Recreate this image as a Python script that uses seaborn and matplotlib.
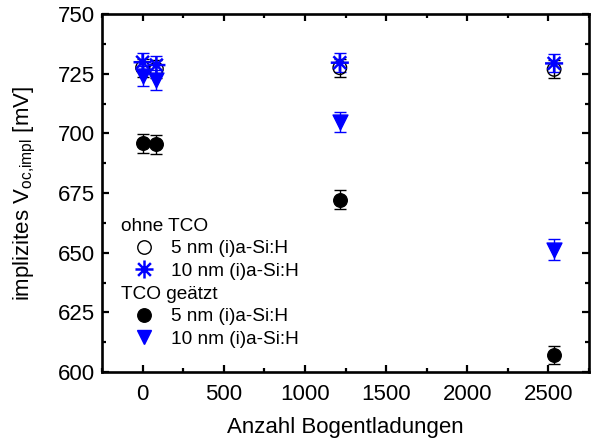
import numpy as np
import pandas as pd
import matplotlib
matplotlib.use("Agg")
import matplotlib.pyplot as plt
import seaborn as sns
from matplotlib.path import Path
from matplotlib.lines import Line2D
from matplotlib.ticker import MultipleLocator

# ---- data ----
arc_discharges = [0, 85, 1215, 2535]
ohne_tco_5nm = [727.5, 727.0, 727.5, 726.8]
ohne_tco_5nm_err = [3.8, 3.8, 3.8, 3.8]
ohne_tco_10nm = [729.8, 728.6, 729.6, 729.3]
ohne_tco_10nm_err = [3.8, 3.8, 4.0, 3.8]
tco_5nm = [695.8, 695.4, 672.1, 607.1]
tco_5nm_err = [4.0, 4.0, 4.0, 3.8]
tco_10nm = [724.0, 722.4, 704.8, 651.3]
tco_10nm_err = [4.3, 4.3, 4.3, 4.5]

x_ticks = [0, 500, 1000, 1500, 2000, 2500]
y_ticks = [600, 625, 650, 675, 700, 725, 750]

sns.set_theme(style="ticks")
plt.rcParams['font.family'] = ['Liberation Sans', 'DejaVu Sans']
plt.rcParams['mathtext.default'] = 'regular'
plt.rcParams['text.color'] = 'black'
plt.rcParams['axes.labelcolor'] = 'black'
plt.rcParams['xtick.color'] = 'black'
plt.rcParams['ytick.color'] = 'black'

fig = plt.figure(figsize=(5.91, 4.43), dpi=100)
ax = fig.add_axes([102 / 591, 1 - 372 / 443, 487 / 591, 358 / 443])

# 8-arm asterisk marker
r = 1.0
d = 0.7071
star_path = Path(
    [(-r, 0), (r, 0), (0, -r), (0, r), (-d, -d), (d, d), (-d, d), (d, -d)],
    [Path.MOVETO, Path.LINETO] * 4,
)

blue = "#0000FF"

series = [
    (ohne_tco_5nm, ohne_tco_5nm_err, "black", "o", 95, "none", "black", 1.0),
    (tco_5nm, tco_5nm_err, "black", "o", 95, "black", "black", 1.0),
    (tco_10nm, tco_10nm_err, blue, "v", 115, blue, blue, 1.0),
    (ohne_tco_10nm, ohne_tco_10nm_err, blue, star_path, 170, "none", blue, 1.8),
]

for vals, err, col, mk, s, fc, ec, lw in series:
    ax.errorbar(arc_discharges, vals, yerr=err, fmt="none", ecolor=col,
                elinewidth=1.0, capsize=4.5, capthick=1.0, zorder=2)
    df = pd.DataFrame({"x": arc_discharges, "y": vals})
    sns.scatterplot(data=df, x="x", y="y", ax=ax, marker=mk, s=s,
                    facecolors=fc, edgecolors=ec, linewidths=lw,
                    color=ec, zorder=3, legend=False)
    if fc == "none":
        coll = ax.collections[-1]
        coll.set_facecolor("none")
        coll.set_edgecolor(ec)
        coll.set_linewidth(lw)

ax.set_xlim(-250, 2750)
ax.set_ylim(600, 750)
ax.set_xticks(x_ticks)
ax.set_yticks(y_ticks)
ax.xaxis.set_minor_locator(MultipleLocator(250))
ax.yaxis.set_minor_locator(MultipleLocator(12.5))
ax.tick_params(which="both", direction="in", top=True, right=True,
               labeltop=False, labelright=False, width=1.6, labelsize=16,
               colors="black", labelcolor="black")
ax.tick_params(axis="x", pad=9)
ax.tick_params(axis="y", pad=5)
ax.tick_params(which="major", length=5)
ax.tick_params(which="minor", length=3)
for sp in ax.spines.values():
    sp.set_linewidth(1.9)
    sp.set_color("black")

ax.set_xlabel("Anzahl Bogentladungen", fontsize=16, labelpad=8, color="black")
ax.set_ylabel(r"implizites V$_{oc{,}impl}$ [mV]", fontsize=16, labelpad=14,
              color="black")

# legend
blank = Line2D([], [], linestyle="none", marker=None)
h_open = Line2D([], [], linestyle="none", marker="o", markersize=9.7,
                markerfacecolor="none", markeredgecolor="black", markeredgewidth=1.0)
h_star = Line2D([], [], linestyle="none", marker=star_path, markersize=13,
                markerfacecolor="none", markeredgecolor=blue, markeredgewidth=1.8)
h_fill = Line2D([], [], linestyle="none", marker="o", markersize=9.7,
                markerfacecolor="black", markeredgecolor="black")
h_tri = Line2D([], [], linestyle="none", marker="v", markersize=10.5,
               markerfacecolor=blue, markeredgecolor=blue)
labels = ["ohne TCO", "5 nm (i)a-Si:H", "10 nm (i)a-Si:H",
          "TCO geätzt", "5 nm (i)a-Si:H", "10 nm (i)a-Si:H"]
handles = [blank, h_open, h_star, blank, h_fill, h_tri]
HL, HP, FS = 2.4, 0.2, 13.7
leg = ax.legend(handles, labels, loc="lower left",
                bbox_to_anchor=(0.040, 0.067), frameon=False, fontsize=FS,
                handlelength=HL, handletextpad=HP, labelspacing=0.28,
                borderpad=0, borderaxespad=0, labelcolor="black")
shift = (HL + HP) * FS * fig.dpi / 72.0
for i in (0, 3):
    leg.get_texts()[i].set_x(-shift)

fig.savefig("out.png", dpi=100)
